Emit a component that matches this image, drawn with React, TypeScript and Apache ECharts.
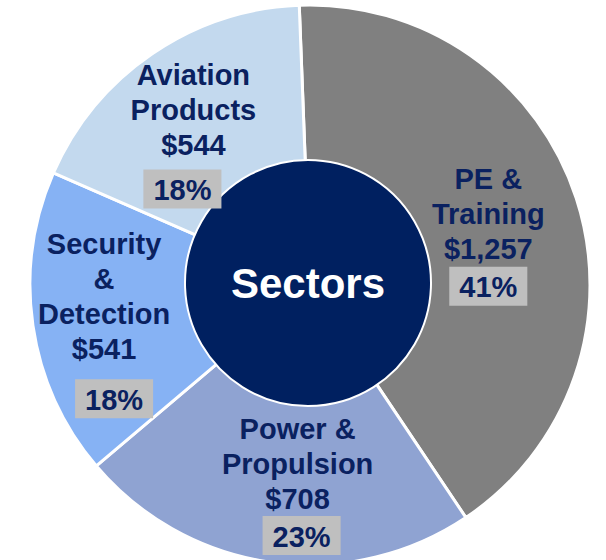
import React, { useEffect, useRef } from "react";
import * as echarts from "echarts";

const sectorNames = ["PE &\nTraining", "Power &\nPropulsion", "Security\n&\nDetection", "Aviation\nProducts"];
const sectorValues = [1257, 708, 541, 544];
const centerTitle = "Sectors";

const NAVY = "#0a2160";
const FONT = 'Arial, "Liberation Sans", sans-serif';

export default function App() {
  const ref = useRef<HTMLDivElement>(null);
  useEffect(() => {
    if (!ref.current) return;
    const chart = echarts.init(ref.current, null, { renderer: "svg" });
    const colors = ["#808080", "#8fa3d2", "#86b2f4", "#c3d9ee"];
    const pctLineHeights = [40, 38, 64, 52];
    const boxShift = [0, 4, 10, -11];
    const labelShift = [
      [-10, 10],
      [15, 2],
      [-10, 15],
      [-5, 15],
    ];
    const rich: any = {
      n: { fontFamily: FONT, fontSize: 29, fontWeight: "bold", color: NAVY, lineHeight: 35 },
    };
    pctLineHeights.forEach((lh, i) => {
      rich["p" + i] = {
        fontFamily: FONT,
        fontSize: 29,
        fontWeight: "bold",
        color: NAVY,
        lineHeight: lh,
        backgroundColor: "#bfbfbf",
        padding: [6, 10, 4, 10],
      };
      rich["s" + i] = { width: Math.max(1, Math.abs(boxShift[i]) * 2), fontSize: 12, lineHeight: 12 };
    });
    const pctToken = (i: number, pct: number) => {
      const box = `{p${i}|${pct}%}`;
      const sh = boxShift[i];
      if (sh > 0) return `{s${i}| }${box}`;
      if (sh < 0) return `${box}{s${i}| }`;
      return box;
    };
    chart.setOption({
      animation: false,
      series: [
        {
          type: "pie",
          center: [310, 285],
          radius: [110, 280],
          startAngle: 92.2,
          clockwise: true,
          silent: true,
          itemStyle: { borderColor: "#ffffff", borderWidth: 3 },
          label: {
            show: true,
            position: "inside",
            formatter: (p: any) =>
              `{n|${p.name}}\n{n|$${Number(p.value).toLocaleString("en-US")}}\n${pctToken(
                p.dataIndex,
                Math.round(p.percent)
              )}`,
            rich,
          },
          labelLayout: (params: any) => {
            const s = labelShift[params.dataIndex] || [0, 0];
            return { dx: s[0], dy: s[1] };
          },
          labelLine: { show: false },
          data: sectorNames.map((name, i) => ({
            name,
            value: sectorValues[i],
            itemStyle: { color: colors[i] },
          })),
        },
        {
          type: "pie",
          center: [308, 283],
          radius: [0, 123],
          silent: true,
          itemStyle: { color: "#002060", borderColor: "#ffffff", borderWidth: 2 },
          label: {
            show: true,
            position: "center",
            formatter: "{b}",
            fontFamily: FONT,
            fontSize: 42,
            fontWeight: "bold",
            color: "#ffffff",
          },
          labelLine: { show: false },
          data: [{ name: centerTitle, value: 1 }],
        },
      ],
    });
    return () => chart.dispose();
  }, []);
  return (
    <div
      ref={ref}
      style={{ position: "fixed", left: 0, top: 0, width: 606, height: 560, background: "#ffffff" }}
    />
  );
}
